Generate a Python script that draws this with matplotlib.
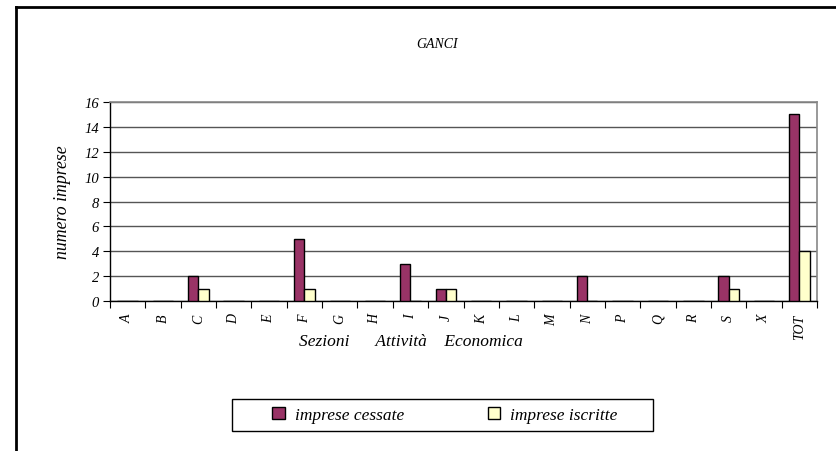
import matplotlib
matplotlib.use("Agg")
import matplotlib.pyplot as plt
from matplotlib.lines import Line2D
from matplotlib.patches import Patch, Rectangle
import numpy as np

# data
sezioni = ["A", "B", "C", "D", "E", "F", "G", "H", "I", "J",
           "K", "L", "M", "N", "P", "Q", "R", "S", "X", "TOT"]
cessate = [0, 0, 2, 0, 0, 5, 0, 0, 3, 1, 0, 0, 0, 2, 0, 0, 0, 2, 0, 15]
iscritte = [0, 0, 1, 0, 0, 1, 0, 0, 0, 1, 0, 0, 0, 0, 0, 0, 0, 1, 0, 4]

plt.rcParams["font.family"] = ["Liberation Serif", "DejaVu Serif"]
plt.rcParams["font.style"] = "italic"

W, H = 836, 452
fig = plt.figure(figsize=(W / 100, H / 100), dpi=100)
ax = fig.add_axes([110 / W, 1 - 302 / H, 707 / W, 199 / H])

x = np.arange(len(sezioni))
bw = 0.29
ax.bar(x - bw / 2, cessate, bw, color="#993366", edgecolor="black", linewidth=1, zorder=3)
ax.bar(x + bw / 2, iscritte, bw, color="#FFFFCC", edgecolor="black", linewidth=1, zorder=3)

ax.set_xlim(-0.5, len(sezioni) - 0.5)
ax.set_ylim(0, 16)
ax.set_yticks(range(0, 17, 2))
ax.yaxis.grid(True, color="#555555", linewidth=1, zorder=0)
ax.set_yticklabels([str(v) for v in range(0, 17, 2)], fontsize=10.5)

# tick marks between categories, labels at centers
ax.set_xticks(np.arange(-0.5, len(sezioni), 1))
ax.set_xticklabels([])
ax.set_xticks(x, minor=True)
ax.set_xticklabels(sezioni, minor=True, rotation=90, fontsize=10)
ax.tick_params(axis="x", which="minor", length=0, pad=9)
ax.tick_params(axis="x", which="major", length=5, direction="out", color="black")
ax.tick_params(axis="y", length=5, direction="out", color="black", pad=3)

for s in ["top", "right"]:
    ax.spines[s].set_color("#888888")
    ax.spines[s].set_linewidth(1.2)
for s in ["left", "bottom"]:
    ax.spines[s].set_color("black")
    ax.spines[s].set_linewidth(1)

ax.set_ylabel("numero imprese", fontsize=12.8)
ax.yaxis.set_label_coords(-0.055, 0.5)
fig.text(411 / W, 1 - 342 / H, "Sezioni      Attività    Economica", fontsize=12.5,
         ha="center", va="center")
fig.text(437 / W, 1 - 44 / H, "GANCI", fontsize=10, ha="center", va="center")

handles = [Patch(facecolor="#993366", edgecolor="black", label="imprese cessate"),
           Patch(facecolor="#FFFFCC", edgecolor="black", label="imprese iscritte")]
leg = fig.legend(handles=handles, loc="center", bbox_to_anchor=(445 / W, 1 - 416 / H),
                 ncol=2, fontsize=12.5, frameon=False,
                 handlelength=0.7, handleheight=0.7, handletextpad=0.6,
                 columnspacing=4.8)
fig.add_artist(Rectangle((232 / W, 1 - 432 / H), 421 / W, 32 / H, transform=fig.transFigure,
                         facecolor="none", edgecolor="black", linewidth=1))

# outer chart frame (right and bottom edges fall outside the picture)
fig.add_artist(Line2D([16 / W, 16 / W], [0, 1 - 8 / H], color="black", linewidth=2))
fig.add_artist(Line2D([16 / W, 1], [1 - 8 / H, 1 - 8 / H], color="black", linewidth=2))

fig.savefig("out.png", dpi=100)
plt.close(fig)
